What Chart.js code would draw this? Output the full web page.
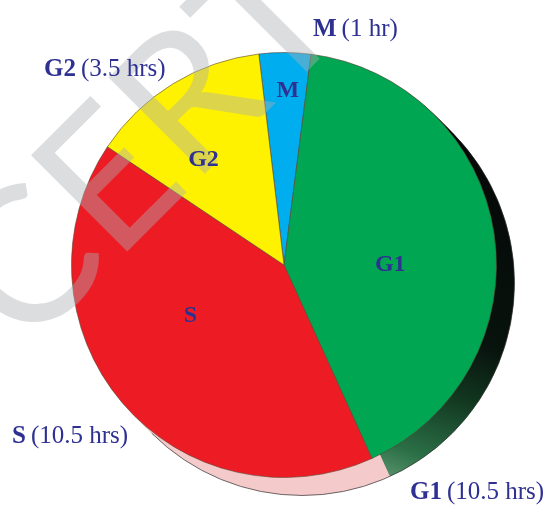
<!DOCTYPE html>
<html>
<head>
<meta charset="utf-8">
<script src="https://cdn.jsdelivr.net/npm/chart.js@4/dist/chart.umd.min.js"></script>
<style>
  html, body { margin: 0; padding: 0; background: #fff; }
  #wrap { width: 547px; height: 505px; position: relative; }
</style>
</head>
<body>
<div id="wrap"><canvas id="cycle"></canvas></div>
<script>
// phases of the cell cycle, clockwise from the top
const phases = ["M", "G1", "S", "G2"];
const hours = [1, 10.5, 10.5, 3.5];
const faceColors = ["#00aeef", "#00a651", "#ed1c24", "#fff200"];

const INK = "#2e3192";
const SERIF = "'Liberation Serif', 'Times New Roman', serif";
const DEPTH = 18;

function hourText(h) {
  return h === 1 ? "(1 hr)" : `(${h} hrs)`;
}

// side colours of the disc, seen on the lower right
function rimColor(ctx, i, x, y, r) {
  if (phases[i] === "G1") {
    const g = ctx.createLinearGradient(x + 0.6 * r, y - 0.6 * r, x, y + r + DEPTH);
    g.addColorStop(0, "#050807");
    g.addColorStop(0.45, "#08130d");
    g.addColorStop(0.6, "#11361f");
    g.addColorStop(0.78, "#2b6f46");
    g.addColorStop(1, "#9ccaa9");
    return g;
  }
  if (phases[i] === "S") return "#f4caca";
  return "#cccccc";
}

const discSide = {
  id: "discSide",
  beforeDatasetsDraw(chart) {
    const ctx = chart.ctx;
    const arcs = chart.getDatasetMeta(0).data;
    ctx.save();
    arcs.forEach((arc, i) => {
      const p = arc.getProps(["x", "y", "startAngle", "endAngle", "outerRadius"], true);
      ctx.fillStyle = rimColor(ctx, i, p.x, p.y, p.outerRadius);
      for (let k = DEPTH; k >= 1; k--) {
        ctx.beginPath();
        ctx.moveTo(p.x + k, p.y + k);
        ctx.arc(p.x + k, p.y + k, p.outerRadius, p.startAngle, p.endAngle);
        ctx.closePath();
        ctx.fill();
      }
    });
    const a = arcs[0].getProps(["x", "y", "outerRadius"], true);
    ctx.beginPath();
    ctx.arc(a.x + DEPTH, a.y + DEPTH, a.outerRadius, -Math.PI / 4, 3 * Math.PI / 4);
    ctx.strokeStyle = "rgba(50,50,50,0.7)";
    ctx.lineWidth = 1;
    ctx.stroke();
    ctx.restore();
  }
};

// faint diagonal watermark across the upper left
const watermark = {
  id: "watermark",
  afterDatasetsDraw(chart) {
    const ctx = chart.ctx;
    ctx.save();
    ctx.fillStyle = "rgba(172,174,178,0.42)";
    ctx.translate(30, 262);
    ctx.rotate(-Math.PI / 4);
    ctx.font = "190px Lato";
    ctx.textBaseline = "middle";
    ctx.textAlign = "left";
    ctx.fillText("CERT", -68, 0);
    ctx.restore();
  }
};

const phaseLabels = {
  id: "phaseLabels",
  afterDraw(chart, args, opts) {
    const ctx = chart.ctx;
    const arcs = chart.getDatasetMeta(0).data;
    ctx.save();
    ctx.fillStyle = INK;

    // letters inside the slices: [radius fraction, angle nudge in degrees]
    ctx.font = `bold 24px ${SERIF}`;
    ctx.textAlign = "center";
    ctx.textBaseline = "middle";
    arcs.forEach((arc, i) => {
      const p = arc.getProps(["x", "y", "startAngle", "endAngle", "outerRadius"], true);
      const [frac, nudge] = opts.inside[i];
      const mid = (p.startAngle + p.endAngle) / 2 + nudge * Math.PI / 180;
      const r = p.outerRadius * frac;
      ctx.fillText(phases[i], p.x + r * Math.cos(mid), p.y + r * Math.sin(mid));
    });

    // captions with durations around the disc
    ctx.textAlign = "left";
    ctx.textBaseline = "alphabetic";
    phases.forEach((ph, i) => {
      const [lx, ly] = opts.outside[i];
      ctx.font = `bold 25px ${SERIF}`;
      ctx.fillText(ph, lx, ly);
      const w = ctx.measureText(ph).width;
      ctx.font = `25px ${SERIF}`;
      ctx.fillText(hourText(hours[i]), lx + w + 5, ly);
    });
    ctx.restore();
  }
};

new Chart(document.getElementById("cycle"), {
  type: "pie",
  data: {
    labels: phases,
    datasets: [{
      data: hours,
      backgroundColor: faceColors,
      borderColor: "rgba(90,70,50,0.6)",
      borderWidth: 1,
      hoverOffset: 0
    }]
  },
  options: {
    responsive: true,
    maintainAspectRatio: false,
    animation: false,
    rotation: -6.8,
    layout: { padding: { left: 71, right: 50, top: 52, bottom: 27 } },
    plugins: {
      legend: { display: false },
      tooltip: { enabled: false },
      phaseLabels: {
        inside: [[0.82, 1], [0.5, 8.6], [0.5, 12], [0.625, -5.8]],
        outside: [[313, 36], [410, 499], [12, 443], [44, 76]]
      }
    }
  },
  plugins: [discSide, watermark, phaseLabels]
});
</script>
</body>
</html>
